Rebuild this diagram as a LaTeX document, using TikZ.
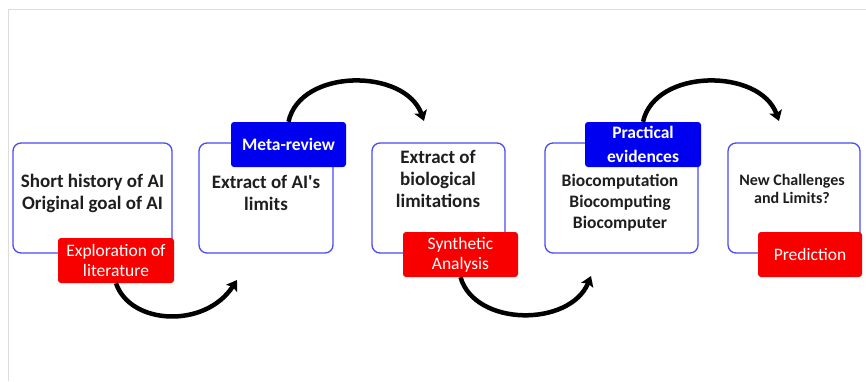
\documentclass[tikz,border=0pt]{standalone}
\usepackage{fontspec}
\setmainfont{Carlito}
\usetikzlibrary{arrows.meta}
\definecolor{boxblue}{HTML}{4A4AF5}
\definecolor{labblue}{HTML}{0000F0}
\definecolor{labred}{HTML}{F80000}
\definecolor{txt}{HTML}{1E1E1E}
\definecolor{frame}{HTML}{DCDCDC}
\tikzset{
  stagebox/.style={draw=boxblue, line width=1.3pt, rounded corners=8pt, fill=white, inner sep=0pt, minimum height=110pt},
  stagetext/.style={text=txt, align=center, inner sep=0pt, font=\fontsize{19}{22}\selectfont\bfseries},
  redlab/.style={fill=labred, rounded corners=3pt, text=white, align=center, inner sep=0pt, minimum height=45pt, font=\fontsize{17.5}{20}\selectfont},
  bluelab/.style={fill=labblue, rounded corners=3pt, text=white, align=center, inner sep=0pt, minimum height=45pt, font=\fontsize{17.5}{24}\selectfont\bfseries},
  flow/.style={line width=4.5pt, -{Stealth[length=10pt,width=13pt,inset=2pt]}}
}
\begin{document}
\begin{tikzpicture}[x=1pt,y=-1pt]
\useasboundingbox (0,0) rectangle (866,381);
\draw[frame, line width=1pt] (8,381) -- (8,9) -- (866,9);

% stage boxes
\node[stagebox, minimum width=159pt] (b1) at (92.5,198) {};
\node[stagebox, minimum width=134pt] (b2) at (266,198) {};
\node[stagebox, minimum width=133pt] (b3) at (438.5,198) {};
\node[stagebox, minimum width=153pt] (b4) at (621.5,198) {};
\node[stagebox, minimum width=132pt] (b5) at (794,198) {};

% stage texts
\node[stagetext] (t1) at (92.5,193) {Short history of AI\\Original goal of AI};
\node[stagetext] (t2) at (266,193) {Extract of AI\textquotesingle s\\limits};
\node[stagetext] (t3) at (438,178.5) {Extract of\\biological\\limitations};
\node[stagetext, font=\fontsize{17.5}{21}\selectfont\bfseries] (t4) at (620,203) {Biocomputation\\Biocomputing\\Biocomputer};
\node[stagetext, font=\fontsize{16}{18}\selectfont\bfseries] (t5) at (792,188.5) {New Challenges\\and Limits?};

% labels
\node[redlab, minimum width=116pt] (l1) at (116,260.5) {Exploration of\\literature};
\node[bluelab, minimum width=115pt] (l2) at (288.5,144.5) {Meta-review};
\node[redlab, minimum width=115pt] (l3) at (460.5,254.5) {Synthetic\\Analysis};
\node[bluelab, minimum width=116pt] (l4) at (643,144.5) {Practical\\evidences};
\node[redlab, minimum width=104pt] (l5) at (810,254.5) {Prediction};

% arrow end points
\coordinate (e1) at (237,280);
\coordinate (e2) at (424,121);
\coordinate (e3) at (591,276);
\coordinate (e4) at (779,121);

% arrows
\draw[flow] (l1.south) .. controls (130,325) and (205,329) .. (e1);
\draw[flow] (l2.north) .. controls (300,68) and (405,68) .. (e2);
\draw[flow] (l3.south) .. controls (475,327) and (570,327) .. (e3);
\draw[flow] (l4.north) .. controls (655,68) and (760,68) .. (e4);
\end{tikzpicture}
\end{document}
